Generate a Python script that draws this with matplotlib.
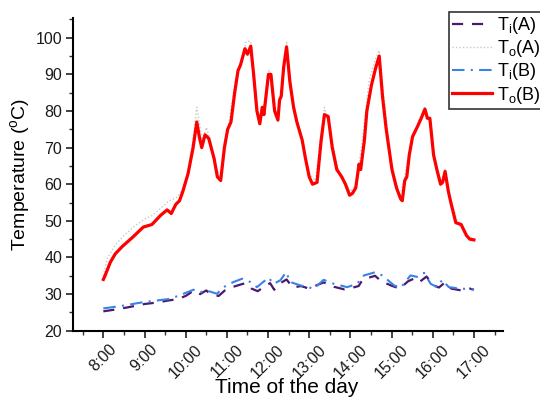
import matplotlib
matplotlib.use("Agg")
import matplotlib.pyplot as plt
from matplotlib.ticker import MultipleLocator

plt.rcParams['font.family'] = ['Liberation Sans', 'DejaVu Sans']
plt.rcParams['mathtext.default'] = 'regular'

# Time in hours of day
t_ob = [8.0, 8.04, 8.17, 8.29, 8.46, 8.71, 8.97, 9.18, 9.39, 9.55, 9.65, 9.76, 9.85, 9.93, 10.06,
        10.18, 10.27, 10.33, 10.39, 10.47, 10.56, 10.69, 10.77, 10.85, 10.94, 11.02, 11.1, 11.19,
        11.27, 11.33, 11.44, 11.5, 11.58, 11.65, 11.73, 11.8, 11.86, 11.9, 11.95, 12.01, 12.07,
        12.16, 12.24, 12.28, 12.32, 12.38, 12.45, 12.53, 12.62, 12.7, 12.83, 12.91, 13.0, 13.08,
        13.19, 13.29, 13.37, 13.46, 13.56, 13.67, 13.79, 13.88, 13.98, 14.05, 14.13, 14.21, 14.25,
        14.34, 14.4, 14.51, 14.62, 14.7, 14.78, 14.87, 15.01, 15.12, 15.22, 15.26, 15.32, 15.37,
        15.43, 15.51, 15.64, 15.72, 15.81, 15.87, 15.93, 16.02, 16.1, 16.19, 16.24, 16.3, 16.38,
        16.44, 16.56, 16.69, 16.82, 16.9, 17.0]
to_b = [34.0, 35.0, 38.7, 41.0, 43.0, 45.5, 48.3, 49.0, 51.5, 53.0, 52.0, 54.5, 55.5, 58.0, 63.0,
        70.0, 77.0, 73.0, 70.0, 73.5, 72.5, 67.0, 62.0, 61.0, 70.0, 75.0, 77.0, 85.0,
        91.0, 92.5, 97.0, 95.5, 97.7, 90.0, 80.0, 76.5, 81.0, 79.0, 84.0, 90.0, 90.0,
        80.0, 77.5, 83.0, 84.0, 92.0, 97.5, 88.0, 81.0, 77.0, 72.0, 67.0, 62.0, 60.0,
        60.5, 72.0, 79.0, 78.5, 70.0, 64.0, 62.0, 60.0, 57.0, 57.5, 59.0, 65.5, 64.0,
        72.0, 80.0, 87.0, 92.0, 95.0, 84.0, 75.0, 64.0, 59.0, 56.0, 55.5, 61.0, 62.0,
        68.0, 73.0, 76.0, 78.0, 80.5, 78.0, 78.0, 68.0, 64.0, 60.0, 60.5, 63.5, 58.0,
        55.0, 49.5, 49.0, 46.0, 45.0, 44.8]

t_oa = [8.0, 8.1, 8.3, 8.5, 8.75, 9.0, 9.2, 9.4, 9.6, 9.8, 10.0, 10.15, 10.27, 10.4, 10.5, 10.6,
        10.75, 10.85, 11.0, 11.2, 11.35, 11.47, 11.58, 11.7, 11.8, 11.9, 12.02, 12.15, 12.25,
        12.35, 12.45, 12.6, 12.8, 13.0, 13.15, 13.3, 13.37, 13.5, 13.7, 13.9, 14.0, 14.15,
        14.3, 14.45, 14.6, 14.7, 14.8, 15.0, 15.2, 15.3, 15.45, 15.65, 15.8, 15.92, 16.05,
        16.2, 16.3, 16.42, 16.6, 16.8, 17.0]
to_a = [35.0, 40.0, 43.5, 46.0, 48.5, 50.5, 51.5, 53.5, 55.5, 56.5, 60.0, 70.0, 81.0, 72.0, 75.5, 72.0,
        64.0, 62.0, 73.0, 88.0, 94.0, 99.0, 99.0, 82.0, 77.0, 82.0, 91.0, 81.0, 79.0,
        88.0, 99.0, 83.0, 73.0, 63.0, 61.0, 75.0, 81.0, 75.0, 64.0, 60.0, 58.0, 60.0,
        73.0, 88.0, 94.0, 96.5, 85.0, 65.0, 57.0, 61.0, 70.0, 77.0, 81.0, 78.0, 67.0,
        61.0, 64.0, 56.0, 50.0, 46.0, 45.0]

t_ia = [8.0, 8.3, 8.6, 9.0, 9.3, 9.6, 9.8, 10.0, 10.2, 10.35, 10.5, 10.6, 10.8, 10.95, 11.1, 11.3,
        11.45, 11.6, 11.75, 11.9, 12.05, 12.15, 12.3, 12.45, 12.6, 12.8, 13.0, 13.2, 13.35, 13.6,
        13.85, 14.0, 14.2, 14.3, 14.45, 14.6, 14.75, 15.0, 15.2, 15.4, 15.6, 15.7, 15.85, 16.0,
        16.15, 16.3, 16.45, 16.7, 16.9, 17.0]
ti_a = [25.3, 25.8, 26.4, 27.3, 27.7, 28.3, 28.6, 29.5, 31.0, 30.0, 31.0, 30.0, 29.5, 31.0, 31.8, 32.5,
        33.0, 31.5, 30.8, 32.0, 33.0, 31.2, 33.0, 34.0, 31.8, 32.2, 31.5, 32.5, 33.2, 32.0,
        31.3, 31.6, 32.2, 34.0, 34.5, 35.0, 33.5, 32.3, 31.5, 33.5, 34.5, 33.5, 34.8, 32.5,
        31.8, 33.2, 31.5, 31.0, 31.5, 31.2]

t_ib = [8.0, 8.4, 8.97, 9.62, 9.95, 10.19, 10.35, 10.5, 10.76, 10.92, 11.16, 11.37, 11.57, 11.73,
        12.01, 12.14, 12.3, 12.44, 12.54, 12.78, 13.11, 13.35, 13.6, 13.92, 14.16, 14.33, 14.61,
        14.77, 15.06, 15.22, 15.46, 15.62, 15.79, 15.95, 16.11, 16.23, 16.39, 16.68, 17.0]
ti_b = [26.1, 26.7, 27.8, 28.7, 30.1, 31.2, 30.5, 31.0, 30.1, 31.9, 33.3, 34.2, 33.3, 31.9,
        34.5, 32.8, 33.8, 36.0, 33.3, 32.4, 31.5, 33.9, 32.8, 31.9, 32.8, 35.1, 36.0,
        35.1, 32.4, 31.7, 35.1, 34.7, 35.8, 32.8, 31.9, 33.9, 31.9, 31.5, 31.3]

hour_ticks = [8, 9, 10, 11, 12, 13, 14, 15, 16, 17]
hour_labels = ["8:00", "9:00", "10:00", "11:00", "12:00", "13:00", "14:00", "15:00", "16:00", "17:00"]
temp_ticks = [20, 30, 40, 50, 60, 70, 80, 90, 100]

fig = plt.figure(figsize=(5.4, 3.98), dpi=100)
ax = fig.add_axes([0.1357, 0.169, 0.7953, 0.785])

l1, = ax.plot(t_ia, ti_a, color='#4a1a6e', lw=1.6, ls=(0, (5, 4)), label='T$_i$(A)')
l2, = ax.plot(t_oa, to_a, color='#c8c8c8', lw=1.0, ls=(0, (1, 1.5)), label='T$_o$(A)')
l3, = ax.plot(t_ib, ti_b, color='#3a82e6', lw=1.5, ls=(0, (6, 3, 1, 3)), label='T$_i$(B)')
l4, = ax.plot(t_ob, to_b, color='#ff0000', lw=2.3, label='T$_o$(B)')

ax.set_xlim(7.27, 17.7)
ax.set_ylim(20, 105.3)
ax.set_xticks(hour_ticks)
ax.set_xticklabels(hour_labels, rotation=45, ha='center')
ax.xaxis.set_minor_locator(MultipleLocator(0.5))
ax.set_yticks(temp_ticks)
ax.yaxis.set_minor_locator(MultipleLocator(5))
ax.spines['top'].set_visible(False)
ax.spines['right'].set_visible(False)
for s in ('left', 'bottom'):
    ax.spines[s].set_linewidth(1.5)
ax.tick_params(which='major', direction='out', length=5, width=1.3, labelsize=11.5,
               color='#333333', labelcolor='#1a1a1a')
ax.tick_params(which='minor', direction='out', length=3, width=1.0, color='#333333')
ax.tick_params(axis='x', which='major', pad=3)
ax.tick_params(axis='y', which='major', pad=3)

ax.set_xlabel('Time of the day', fontsize=15, va='top')
ax.xaxis.set_label_coords(0.497, -0.152)
ax.set_ylabel('Temperature ($^o$C)', fontsize=14, va='center')
ax.yaxis.set_label_coords(-0.124, 0.5)

leg = fig.legend(handles=[l1, l2, l3, l4], loc='upper left', bbox_to_anchor=(0.831, 0.971),
                 fontsize=13, frameon=True, fancybox=False, edgecolor='black',
                 handlelength=2.2, handletextpad=0.28, borderpad=0.2, labelspacing=0.12,
                 borderaxespad=0)
leg.get_frame().set_linewidth(1.2)

fig.savefig('out.png', dpi=100)
